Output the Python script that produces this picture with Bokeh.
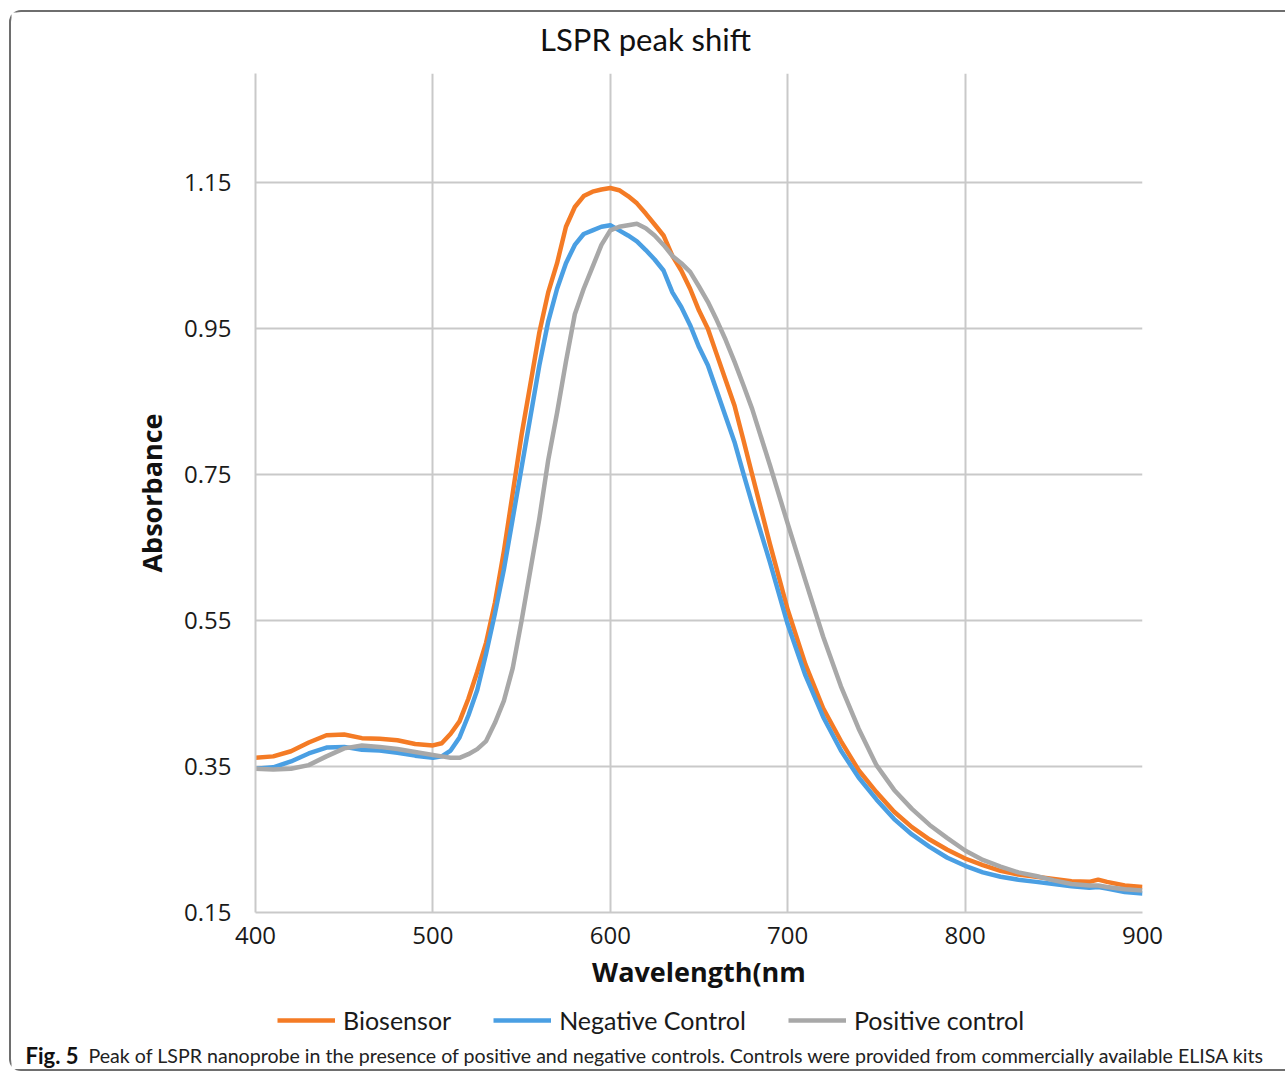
from bokeh.plotting import figure
from bokeh.layouts import column
from bokeh.models import (FixedTicker, PrintfTickFormatter, Legend, LegendItem, Range1d)
from bokeh.core.properties import value
from bokeh.embed import file_html
from bokeh.resources import INLINE

# ---------------- data ----------------
wavelength = [400, 410, 420, 430, 440, 450, 460, 470, 480, 490, 500, 505, 510, 515, 520,
              525, 530, 535, 540, 545, 550, 555, 560, 565, 570, 575, 580, 585, 590, 595,
              600, 605, 610, 615, 620, 625, 630, 635, 640, 645, 650, 655, 660, 665, 670,
              675, 680, 690, 700, 710, 720, 730, 740, 750, 760, 770, 780, 790, 800, 810,
              820, 830, 840, 850, 860, 870, 875, 880, 890, 900]

biosensor = [0.362, 0.364, 0.371, 0.383, 0.393, 0.394, 0.389, 0.388, 0.386, 0.381, 0.379,
             0.382, 0.395, 0.412, 0.443, 0.480, 0.520, 0.575, 0.645, 0.725, 0.805, 0.875,
             0.945, 1.000, 1.040, 1.090, 1.117, 1.132, 1.138, 1.141, 1.143, 1.140, 1.132,
             1.122, 1.108, 1.093, 1.078, 1.050, 1.030, 1.005, 0.975, 0.950, 0.915, 0.880,
             0.845, 0.798, 0.750, 0.655, 0.565, 0.490, 0.430, 0.385, 0.345, 0.315, 0.288,
             0.267, 0.250, 0.236, 0.224, 0.215, 0.207, 0.202, 0.199, 0.196, 0.193, 0.192,
             0.195, 0.192, 0.187, 0.185]

negative_control = [0.347, 0.349, 0.357, 0.368, 0.376, 0.377, 0.373, 0.372, 0.369, 0.365,
                    0.362, 0.364, 0.372, 0.390, 0.420, 0.455, 0.505, 0.560, 0.620, 0.690,
                    0.760, 0.830, 0.900, 0.960, 1.005, 1.040, 1.065, 1.080, 1.085, 1.090,
                    1.092, 1.085, 1.078, 1.070, 1.058, 1.045, 1.030, 1.000, 0.980, 0.955,
                    0.925, 0.900, 0.865, 0.830, 0.795, 0.752, 0.710, 0.630, 0.545, 0.475,
                    0.418, 0.372, 0.335, 0.305, 0.278, 0.257, 0.240, 0.225, 0.214, 0.205,
                    0.199, 0.195, 0.192, 0.189, 0.186, 0.184, 0.185, 0.183, 0.178, 0.176]

positive_control = [0.347, 0.346, 0.347, 0.352, 0.364, 0.375, 0.379, 0.377, 0.374, 0.370,
                    0.366, 0.364, 0.362, 0.362, 0.367, 0.374, 0.385, 0.410, 0.440, 0.485,
                    0.550, 0.620, 0.690, 0.770, 0.835, 0.905, 0.970, 1.005, 1.035, 1.065,
                    1.085, 1.090, 1.092, 1.094, 1.088, 1.078, 1.065, 1.050, 1.040, 1.028,
                    1.008, 0.987, 0.962, 0.935, 0.905, 0.873, 0.840, 0.763, 0.683, 0.605,
                    0.528, 0.460, 0.402, 0.352, 0.318, 0.292, 0.270, 0.252, 0.235, 0.222,
                    0.213, 0.205, 0.200, 0.194, 0.189, 0.187, 0.187, 0.185, 0.182, 0.180]

series = [biosensor, negative_control, positive_control]
series_names = ["Biosensor", "Negative Control", "Positive control"]
series_colors = ["#F47B25", "#4A9FE3", "#A8A8A8"]
y_ticks = [0.15, 0.35, 0.55, 0.75, 0.95, 1.15]
x_ticks = [400, 500, 600, 700, 800, 900]

title_text = "LSPR peak shift"
caption_bold = "Fig. 5"
caption_text = ("Peak of LSPR nanoprobe in the presence of positive and negative controls. "
                "Controls were provided from commercially available ELISA kits")

W = 1274


def text_panel(height):
    fig = figure(width=W, height=height, output_backend="svg", toolbar_location=None,
                 x_range=Range1d(0, W), y_range=Range1d(-height, 0),
                 min_border=0, min_border_left=0, min_border_right=0,
                 min_border_top=0, min_border_bottom=0)
    if "frame_align" in fig.properties():
        fig.frame_align = False
    fig.axis.visible = False
    fig.grid.visible = False
    fig.outline_line_color = None
    fig.background_fill_color = "white"
    fig.border_fill_color = "white"
    return fig


# ---------------- header: title ----------------
hh = 50
hdr = text_panel(hh)
hdr.text(x=[W / 2 - 3], y=[-26], text=[title_text], text_font=value("Lato"),
         text_font_size="31px", text_color="#111111", text_align="center",
         text_baseline="middle")

# ---------------- main chart ----------------
p = figure(width=W, height=938, output_backend="svg", toolbar_location=None,
           title=None, x_range=(400, 900), y_range=(0.15, 1.30),
           min_border_left=244, min_border_right=143, min_border_top=11,
           min_border_bottom=88)
p.outline_line_color = None
p.background_fill_color = "white"
p.border_fill_color = "white"

grid_color = "#C9C9C9"
p.xgrid.ticker = FixedTicker(ticks=x_ticks)
p.ygrid.ticker = FixedTicker(ticks=y_ticks)
for g in (p.xgrid, p.ygrid):
    g.grid_line_color = grid_color
    g.grid_line_width = 2

p.xaxis.ticker = FixedTicker(ticks=x_ticks)
p.yaxis.ticker = FixedTicker(ticks=y_ticks)
p.yaxis.formatter = PrintfTickFormatter(format="%.2f")
for ax in (p.xaxis, p.yaxis):
    ax.axis_line_color = grid_color
    ax.axis_line_width = 2
    ax.major_tick_line_color = None
    ax.minor_tick_line_color = None
    ax.major_label_text_font = "Open Sans"
    ax.major_label_text_font_size = "24px"
    ax.major_label_text_color = "#1a1a1a"
    ax.axis_label_text_font = "Open Sans"
    ax.axis_label_text_font_style = "bold"
    ax.axis_label_text_color = "#111111"
    ax.axis_label_text_font_size = "27px"

p.yaxis.major_label_standoff = 18
p.xaxis.major_label_standoff = 8
p.xaxis.axis_label = "Wavelength(nm"
p.xaxis.axis_label_standoff = 6
p.yaxis.axis_label = "Absorbance"
p.yaxis.axis_label_standoff = 11

for ys, c in zip(series, series_colors):
    p.line(wavelength, ys, line_color=c, line_width=4.5, line_join="round")

# ---------------- footer: legend + caption ----------------
fh = 69
f = text_panel(fh)
# legend keys: the same series drawn on an off-screen range, so only swatches appear
f.extra_y_ranges = {"offscreen": Range1d(10, 20)}
legend_renderers = [f.line(wavelength, ys, line_color=c, line_width=4.5,
                           y_range_name="offscreen")
                    for ys, c in zip(series, series_colors)]
legend = Legend(items=[LegendItem(label=n, renderers=[r])
                       for n, r in zip(series_names, legend_renderers)],
                location=(266, 34), orientation="horizontal",
                glyph_width=58, glyph_height=30, label_height=30, label_standoff=8,
                spacing=42, padding=0, margin=0, border_line_color=None,
                background_fill_alpha=0, label_text_font="Lato",
                label_text_font_size="25px", label_text_color="#1a1a1a")
f.add_layout(legend)

f.text(x=[14], y=[-55], text=[caption_bold], text_font=value("Lato"),
       text_font_style="bold", text_font_size="22px", text_color="#111111",
       text_baseline="middle")
f.text(x=[77], y=[-55], text=[caption_text], text_font=value("Lato"),
       text_font_size="19.6px", text_color="#222222", text_baseline="middle")

layout = column(hdr, p, f, spacing=0,
                styles={"margin-left": "9px", "margin-top": "10px",
                        "border-top": "2px solid #6e6e6e",
                        "border-left": "2px solid #6e6e6e",
                        "border-bottom": "2px solid #6e6e6e",
                        "border-top-left-radius": "12px",
                        "border-bottom-left-radius": "12px",
                        "background-color": "white"})

open("out.html", "w").write(file_html(layout, INLINE))
